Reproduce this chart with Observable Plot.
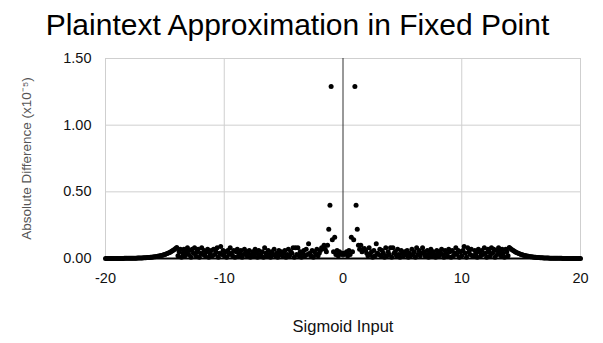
<!DOCTYPE html>
<html>
<head>
<meta charset="utf-8">
<script src="https://cdn.jsdelivr.net/npm/d3@7"></script>
<script src="https://cdn.jsdelivr.net/npm/@observablehq/plot@0.6"></script>
<style>
  body { margin: 0; background: #fff; }
  #wrap { width: 603px; height: 343px; font-family: "Liberation Sans", Arial, sans-serif; }
  #title { height: 45px; line-height: 50px; text-align: center; font-size: 30px; color: #000; margin-left: -8px; }
  svg text { font-family: "Liberation Sans", Arial, sans-serif; }
  g[aria-label="x-axis tick label"], g[aria-label="y-axis tick label"] { font-size: 14.5px; fill: #111; }
  g[aria-label="x-axis label"] { font-size: 16.5px; fill: #111; }
  g[aria-label="y-axis label"] { font-size: 13.5px; fill: #555; }
</style>
</head>
<body>
<div id="wrap">
  <div id="title">Plaintext Approximation in Fixed Point</div>
  <div id="chart"></div>
</div>
<script>
// Sampling grid of the sigmoid input
const inputStart = -20;
const inputStep = 0.1;

// Absolute difference (x10^-5)
// left tail: x = -20.0 ... -14.0
const leftTail = [
  0.0002, 0.0002, 0.0003, 0.0003, 0.0003, 0.0003, 0.0004, 0.0004, 0.0005, 0.0005,
  0.0006, 0.0006, 0.0007, 0.0008, 0.0008, 0.0009, 0.0010, 0.0011, 0.0012, 0.0014,
  0.0015, 0.0017, 0.0019, 0.0021, 0.0023, 0.0025, 0.0028, 0.0031, 0.0034, 0.0037,
  0.0041, 0.0046, 0.0050, 0.0056, 0.0062, 0.0068, 0.0075, 0.0083, 0.0092, 0.0102,
  0.0113, 0.0124, 0.0137, 0.0152, 0.0168, 0.0186, 0.0205, 0.0227, 0.0251, 0.0277,
  0.0306, 0.0338, 0.0374, 0.0413, 0.0456, 0.0504, 0.0557, 0.0616, 0.0681, 0.0752,
  0.0832
];
// left middle: x = -13.9 ... -0.1
const leftMiddle = [
  0.02, 0.05, 0.07, 0.01, 0.04, 0.07, 0.02, 0.05, 0.08, 0.03,
  0.06, 0.01, 0.07, 0.04, 0.08, 0.02, 0.05, 0.07, 0.01, 0.04,
  0.08, 0.03, 0.06, 0.02, 0.05, 0.07, 0.01, 0.04, 0.06, 0.02,
  0.07, 0.03, 0.05, 0.08, 0.01, 0.04, 0.09, 0.03, 0.06, 0.02,
  0.05, 0.01, 0.06, 0.03, 0.08, 0.04, 0.02, 0.06, 0.01, 0.05,
  0.07, 0.02, 0.04, 0.06, 0.01, 0.03, 0.07, 0.05, 0.02, 0.04,
  0.06, 0.01, 0.03, 0.05, 0.02, 0.07, 0.04, 0.01, 0.06, 0.03,
  0.02, 0.05, 0.01, 0.08, 0.04, 0.02, 0.06, 0.03, 0.01, 0.05,
  0.03, 0.07, 0.02, 0.04, 0.01, 0.06, 0.03, 0.05, 0.02, 0.04,
  0.06, 0.01, 0.03, 0.07, 0.02, 0.05, 0.04, 0.08, 0.01, 0.08,
  0.03, 0.08, 0.02, 0.05, 0.01, 0.04, 0.06, 0.02, 0.07, 0.03,
  0.11, 0.04, 0.02, 0.06, 0.01, 0.05, 0.03, 0.07, 0.02, 0.04,
  0.06, 0.08, 0.075, 0.10, 0.07, 0.05, 0.10, 0.22, 0.40, 1.29,
  0.14, 0.05, 0.16, 0.03, 0.06, 0.02, 0.05, 0.04, 0.03
];
// x = 0
const center = [0.04];
// right middle: x = 0.1 ... 13.9
const rightMiddle = [
  0.03, 0.04, 0.05, 0.02, 0.06, 0.03, 0.16, 0.05, 0.14,
  1.29, 0.40, 0.22, 0.10, 0.07, 0.10, 0.05, 0.07, 0.075, 0.06,
  0.04, 0.02, 0.08, 0.03, 0.05, 0.01, 0.06, 0.02, 0.11, 0.04,
  0.03, 0.07, 0.02, 0.06, 0.04, 0.01, 0.08, 0.02, 0.05, 0.03,
  0.08, 0.01, 0.08, 0.04, 0.05, 0.02, 0.07, 0.03, 0.01, 0.06,
  0.04, 0.02, 0.05, 0.03, 0.06, 0.01, 0.04, 0.02, 0.07, 0.03,
  0.05, 0.01, 0.08, 0.03, 0.06, 0.02, 0.04, 0.08, 0.05, 0.02,
  0.03, 0.06, 0.01, 0.04, 0.07, 0.02, 0.05, 0.03, 0.01, 0.06,
  0.04, 0.02, 0.05, 0.07, 0.03, 0.01, 0.06, 0.04, 0.02, 0.07,
  0.05, 0.01, 0.06, 0.02, 0.04, 0.08, 0.03, 0.06, 0.01, 0.05,
  0.02, 0.06, 0.09, 0.04, 0.01, 0.08, 0.05, 0.03, 0.07, 0.02,
  0.02, 0.06, 0.04, 0.01, 0.07, 0.05, 0.02, 0.06, 0.03, 0.08,
  0.04, 0.01, 0.07, 0.05, 0.02, 0.08, 0.04, 0.07, 0.01, 0.06,
  0.03, 0.08, 0.05, 0.02, 0.07, 0.04, 0.01, 0.07, 0.05, 0.02
];
// right tail: x = 14.0 ... 20.0
const rightTail = [
  0.0832,
  0.0752, 0.0681, 0.0616, 0.0557, 0.0504, 0.0456, 0.0413, 0.0374, 0.0338, 0.0306,
  0.0277, 0.0251, 0.0227, 0.0205, 0.0186, 0.0168, 0.0152, 0.0137, 0.0124, 0.0113,
  0.0102, 0.0092, 0.0083, 0.0075, 0.0068, 0.0062, 0.0056, 0.0050, 0.0046, 0.0041,
  0.0037, 0.0034, 0.0031, 0.0028, 0.0025, 0.0023, 0.0021, 0.0019, 0.0017, 0.0015,
  0.0014, 0.0012, 0.0011, 0.0010, 0.0009, 0.0008, 0.0008, 0.0007, 0.0006, 0.0006,
  0.0005, 0.0005, 0.0004, 0.0004, 0.0003, 0.0003, 0.0003, 0.0003, 0.0002, 0.0002
];

const xTicks = [-20, -10, 0, 10, 20];
const yTicks = [0, 0.5, 1.0, 1.5];
const xTitle = "Sigmoid Input";
const yTitle = "Absolute Difference (x10\u207B\u2075)";

const diffs = [...leftTail, ...leftMiddle, ...center, ...rightMiddle, ...rightTail];
const data = diffs.map((d, i) => ({x: +(inputStart + i * inputStep).toFixed(1), y: d}));

const chart = Plot.plot({
  width: 603,
  height: 298,
  marginLeft: 105,
  marginRight: 23,
  marginTop: 13,
  marginBottom: 85,
  style: {background: "#fff", overflow: "visible"},
  x: {domain: [-20, 20], labelArrow: "none"},
  y: {domain: [0, 1.5], labelArrow: "none"},
  marks: [
    Plot.gridX(xTicks.filter(d => d !== 0), {stroke: "#cfcfcf", strokeOpacity: 1}),
    Plot.gridY(yTicks.filter(d => d !== 0), {stroke: "#cfcfcf", strokeOpacity: 1}),
    Plot.ruleX([0], {stroke: "#333", strokeWidth: 1}),
    Plot.axisX(xTicks, {tickSize: 0, tickPadding: 14, tickFormat: d => String(d), label: xTitle, labelAnchor: "center", labelOffset: 73, labelArrow: "none"}),
    Plot.axisY(yTicks, {tickSize: 0, tickPadding: 14, tickFormat: d3.format(".2f"), label: yTitle, labelAnchor: "center", labelOffset: 84, labelArrow: "none"}),
    Plot.dot(data, {x: "x", y: "y", r: 2.5, fill: "#000", stroke: "none"}),
    Plot.ruleY([0], {stroke: "#000", strokeWidth: 2})
  ]
});
document.getElementById("chart").appendChild(chart);
</script>
</body>
</html>
